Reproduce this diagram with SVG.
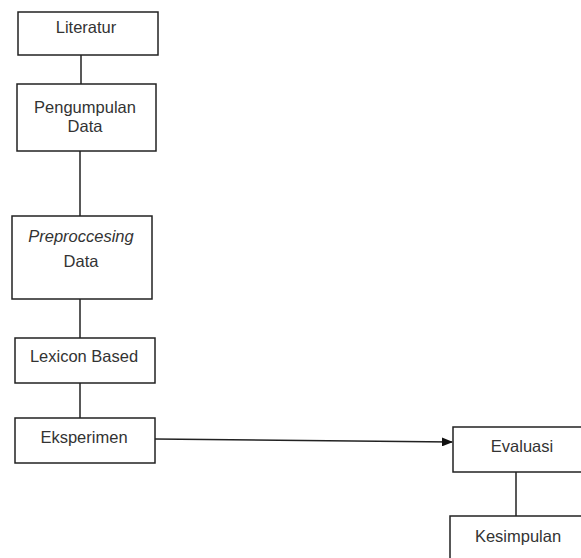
<svg xmlns="http://www.w3.org/2000/svg" width="581" height="558" viewBox="0 0 581 558">
<style>
.box{fill:#fff;stroke:#222;stroke-width:1.5}
.t{font-family:"Liberation Sans",Arial,sans-serif;font-size:16.5px;fill:#333;text-anchor:middle}
.c{stroke:#222;stroke-width:1.5;fill:none}
</style>
<defs>
<marker id="ah" markerWidth="11" markerHeight="9" refX="10" refY="4.5" orient="auto" markerUnits="userSpaceOnUse">
<path d="M0,0 L11,4.5 L0,9 Z" fill="#111"/>
</marker>
</defs>
<rect width="581" height="558" fill="#fff"/>
<g id="connectors">
<line class="c" x1="81" y1="55" x2="81" y2="84"/>
<line class="c" x1="80" y1="151" x2="80" y2="216"/>
<line class="c" x1="80" y1="299" x2="80" y2="338"/>
<line class="c" x1="80" y1="383" x2="80" y2="418"/>
<line class="c" x1="155" y1="439" x2="452" y2="442" marker-end="url(#ah)"/>
<line class="c" x1="516" y1="472" x2="516" y2="516"/>
</g>
<g id="literatur"><rect class="box" x="18" y="12" width="140" height="43"/><text class="t" x="86" y="33">Literatur</text></g>
<g id="pengumpulan"><rect class="box" x="17" y="84" width="139" height="67"/><text class="t" x="85" y="113">Pengumpulan</text><text class="t" x="85" y="132">Data</text></g>
<g id="preprocessing"><rect class="box" x="12" y="216" width="140" height="83"/><text class="t" x="81" y="242" font-style="italic">Preproccesing</text><text class="t" x="81" y="267">Data</text></g>
<g id="lexicon"><rect class="box" x="15" y="338" width="140" height="45"/><text class="t" x="84" y="362">Lexicon Based</text></g>
<g id="eksperimen"><rect class="box" x="15" y="418" width="140" height="45"/><text class="t" x="84" y="443">Eksperimen</text></g>
<g id="evaluasi"><rect class="box" x="453" y="427" width="140" height="45"/><text class="t" x="522" y="452">Evaluasi</text></g>
<g id="kesimpulan"><rect class="box" x="450" y="516" width="140" height="60"/><text class="t" x="518" y="542">Kesimpulan</text></g>
</svg>
